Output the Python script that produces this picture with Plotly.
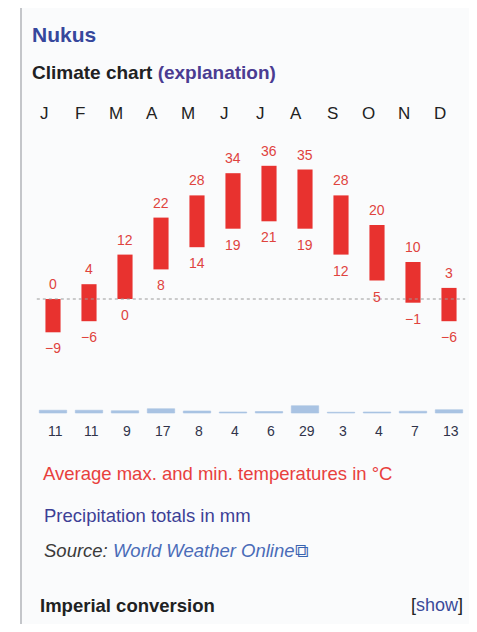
import plotly.graph_objects as go

months = ["J", "F", "M", "A", "M", "J", "J", "A", "S", "O", "N", "D"]
t_max = [0, 4, 12, 22, 28, 34, 36, 35, 28, 20, 10, 3]
t_min = [-9, -6, 0, 8, 14, 19, 21, 19, 12, 5, -1, -6]
precip = [11, 11, 9, 17, 8, 4, 6, 29, 3, 4, 7, 13]

# the page body has an 8px margin; the figure is sized so the page fits the window
OFF = 8
W, H = 477 - 2 * OFF, 632 - 2 * OFF
FONT = "Liberation Sans, Arial, sans-serif"
RED_BAR = "#e8322f"
RED_TXT = "#df433e"

idx = list(range(12))

fig = go.Figure()

fig.add_trace(go.Bar(
    x=idx, y=[a - b for a, b in zip(t_max, t_min)], base=t_min,
    width=0.42, marker=dict(color=RED_BAR, line=dict(width=0)),
    hoverinfo="skip", showlegend=False, xaxis="x", yaxis="y",
))
fig.add_trace(go.Scatter(
    x=[-0.45, 11.45], y=[0, 0], mode="lines",
    line=dict(color="#9a9a9a", width=1, dash="dot"),
    hoverinfo="skip", showlegend=False, xaxis="x", yaxis="y",
))
fig.add_trace(go.Bar(
    x=idx, y=precip, width=0.76,
    marker=dict(color="#a9c3e3", line=dict(color="#a9c3e3", width=0.6)),
    hoverinfo="skip", showlegend=False, xaxis="x", yaxis="y2",
))

# reference-pixel -> data mapping
px_per_month = 36.0
x0_px = 53.0 - OFF
xr0 = -x0_px / px_per_month
xr1 = xr0 + W / px_per_month

deg_px = 3.7
zero_px = 299.0 - OFF
yr1 = zero_px / deg_px
yr0 = -(H - zero_px) / deg_px

mm_px = 0.25
base_px = 413.0 - OFF
y2r1 = base_px / mm_px
y2r0 = -(H - base_px) / mm_px


def py(y):
    return 1 - (y - OFF) / H


def px(x):
    return (x - OFF) / W


ann = []
for i in idx:
    ann.append(dict(x=i, y=t_max[i], xref="x", yref="y", text=str(t_max[i]).replace("-", "\u2212"),
                    showarrow=False, yanchor="bottom", yshift=5,
                    font=dict(family=FONT, size=14, color=RED_TXT)))
    ann.append(dict(x=i, y=t_min[i], xref="x", yref="y", text=str(t_min[i]).replace("-", "\u2212"),
                    showarrow=False, yanchor="top", yshift=-6,
                    font=dict(family=FONT, size=14, color=RED_TXT)))
    ann.append(dict(x=i, y=py(114), xref="x", yref="paper", text=months[i],
                    showarrow=False, yanchor="middle", xshift=-9,
                    font=dict(family=FONT, size=17, color="#222222")))
    ann.append(dict(x=i, y=py(431), xref="x", yref="paper", text=str(precip[i]),
                    showarrow=False, yanchor="middle", xshift=2,
                    font=dict(family=FONT, size=14, color="#30334a")))


def ptxt(x, y, text, size, color, bold=False, italic=False, xanchor="left"):
    if bold:
        text = "<b>" + text + "</b>"
    if italic:
        text = "<i>" + text + "</i>"
    return dict(x=px(x), y=py(y), xref="paper", yref="paper", text=text,
                showarrow=False, xanchor=xanchor, yanchor="middle",
                font=dict(family=FONT, size=size, color=color))


ann += [
    ptxt(30, 34, "Nukus", 21, "#36479c", bold=True),
    ptxt(30, 72, "Climate chart <span style='color:#4a3c92'>(explanation)</span>", 19, "#202122", bold=True),
    ptxt(41, 474, "Average max. and min. temperatures in \u00b0C", 18.5, "#e8403d"),
    ptxt(42, 515, "Precipitation totals in mm", 18.5, "#3d3f96"),
    ptxt(42, 550, "Source: <span style='color:#4a6cb8'>World Weather Online</span>"
                  "<span style='color:#3a64b0;font-style:normal'>\u29c9</span>", 18.5, "#3a3a3a", italic=True),
    ptxt(38, 605, "Imperial conversion", 18.5, "#202122", bold=True),
    ptxt(465, 605, "[<span style='color:#3a4a9a'>show</span>]", 18, "#202122", xanchor="right"),
]

shapes = [
    dict(type="rect", xref="paper", yref="paper", x0=px(21), x1=px(474), y0=0, y1=py(7),
         fillcolor="#fafbfc", line=dict(width=0), layer="below"),
    dict(type="line", xref="paper", yref="paper", x0=px(21), x1=px(21), y0=0, y1=py(6),
         line=dict(color="#c4c6ca", width=2)),
    dict(type="line", xref="paper", yref="paper", x0=px(21), x1=px(474), y0=py(7), y1=py(7),
         line=dict(color="#cfd1d4", width=2)),
    dict(type="line", xref="paper", yref="paper", x0=px(474), x1=px(474), y0=0, y1=py(7),
         line=dict(color="#e6e7e9", width=1)),
]

fig.update_layout(
    width=W, height=H,
    margin=dict(l=0, r=0, t=0, b=0),
    paper_bgcolor="white", plot_bgcolor="rgba(0,0,0,0)",
    barmode="overlay",
    xaxis=dict(range=[xr0, xr1], domain=[0, 1], visible=False, fixedrange=True),
    yaxis=dict(range=[yr0, yr1], domain=[0, 1], visible=False, fixedrange=True),
    yaxis2=dict(range=[y2r0, y2r1], domain=[0, 1], overlaying="y", visible=False, fixedrange=True),
    annotations=ann, shapes=shapes,
)

fig.write_html("out.html")
